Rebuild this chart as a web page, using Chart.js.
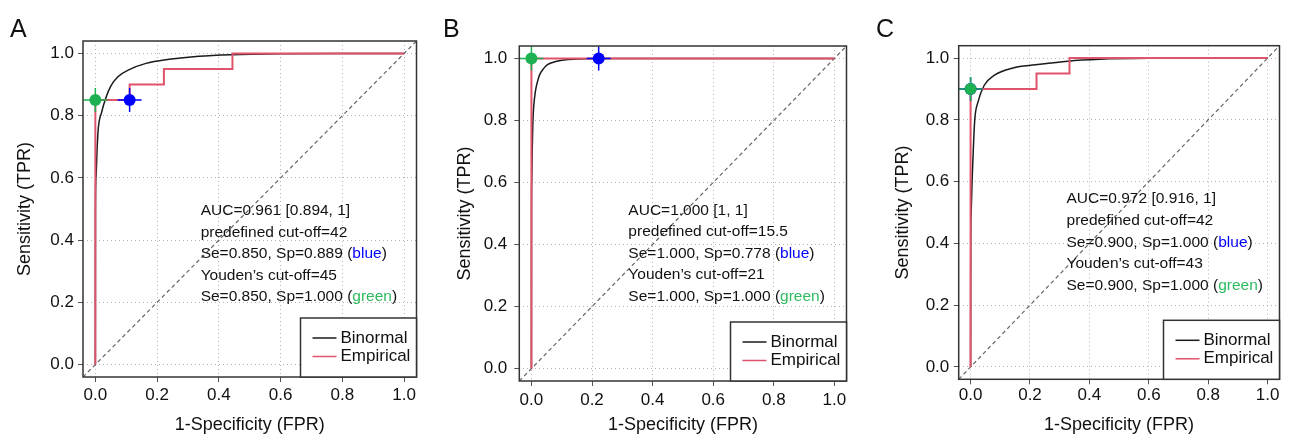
<!DOCTYPE html>
<html>
<head>
<meta charset="utf-8">
<script src="https://cdn.jsdelivr.net/npm/chart.js@4.4.1/dist/chart.umd.min.js"></script>
<style>
  body { margin: 0; background: #fff; width: 1293px; height: 435px; position: relative; overflow: hidden; font-family: "Liberation Sans", Arial, sans-serif; }
  canvas { position: absolute; top: 0; }
  .tag { position: absolute; top: 15.7px; font-size: 25px; line-height: 25px; color: #111; z-index: 2; }
</style>
</head>
<body>
<canvas id="rocA" width="430" height="435" style="left:0"></canvas>
<canvas id="rocB" width="430" height="435" style="left:430px"></canvas>
<canvas id="rocC" width="433" height="435" style="left:860px"></canvas>
<div class="tag" style="left:10px">A</div>
<div class="tag" style="left:443px">B</div>
<div class="tag" style="left:876px">C</div>
<script>
// axis ticks
const tickVals = [0, 0.2, 0.4, 0.6, 0.8, 1.0];
const diagFpr = [-0.04, 1.04];
const diagTpr = [-0.04, 1.04];

// binormal curves
const binormA_fpr = [0, 0.0004, 0.002, 0.006, 0.0096, 0.02, 0.035, 0.05, 0.073, 0.11, 0.164, 0.239, 0.335, 0.441, 0.6, 0.8, 1];
const binormA_tpr = [0, 0.5, 0.6, 0.7, 0.76, 0.81, 0.86, 0.895, 0.925, 0.948, 0.968, 0.981, 0.991, 0.996, 0.999, 1, 1];
const binormB_fpr = [0, 0.0003, 0.001, 0.003, 0.005, 0.008, 0.013, 0.02, 0.027, 0.04, 0.053, 0.08, 0.107, 0.15, 0.2, 1];
const binormB_tpr = [0, 0.5, 0.6, 0.72, 0.8, 0.85, 0.893, 0.925, 0.947, 0.967, 0.98, 0.99, 0.995, 0.998, 1, 1];
const binormC_fpr = [0, 0.0005, 0.002, 0.005, 0.009, 0.014, 0.025, 0.046, 0.079, 0.143, 0.219, 0.327, 0.434, 0.6, 1];
const binormC_tpr = [0, 0.4, 0.5, 0.6, 0.7, 0.8, 0.858, 0.912, 0.944, 0.968, 0.978, 0.99, 0.996, 0.999, 1];

// empirical step curves
const empA_fpr = [0, 0, 0.111, 0.222, 0.444, 1];
const empA_tpr = [0, 0.85, 0.90, 0.95, 1, 1];
const empB_fpr = [0, 0, 1];
const empB_tpr = [0, 1, 1];
const empC_fpr = [0, 0, 0.222, 0.333, 1];
const empC_tpr = [0, 0.90, 0.95, 1, 1];

// summary numbers, panels A, B, C
const aucVal = ["0.961", "1.000", "0.972"];
const aucLo = ["0.894", "1", "0.916"];
const aucHi = ["1", "1", "1"];
const cutPre = ["42", "15.5", "42"];
const cutYouden = ["45", "21", "43"];
const seBlue = [0.850, 1.000, 0.900];
const spBlue = [0.889, 0.778, 1.000];
const seGreen = [0.850, 1.000, 0.900];
const spGreen = [1.000, 1.000, 1.000];

const RED = "#DF536B", BLUE = "#0000FF", GREEN = "#1db152";
const FONT = "'Liberation Sans', Arial, sans-serif";

const pts = (xs, ys) => xs.map((x, i) => ({ x: x, y: ys[i] }));

// box around plot region
const boxPlugin = {
  id: "box",
  afterDatasetsDraw(chart) {
    const { ctx, chartArea: a } = chart;
    ctx.save();
    ctx.strokeStyle = "#333";
    ctx.lineWidth = 1.5;
    ctx.strokeRect(a.left, a.top, a.right - a.left, a.bottom - a.top);
    ctx.restore();
  }
};

// annotation text + legend box
const notePlugin = {
  id: "note",
  afterDraw(chart, args, o) {
    const { ctx, chartArea: a, scales } = chart;
    const i = o.idx;
    ctx.save();
    ctx.font = "15.5px " + FONT;
    ctx.textBaseline = "middle";
    ctx.textAlign = "left";
    const lines = [
      [["AUC=" + aucVal[i] + " [" + aucLo[i] + ", " + aucHi[i] + "]", "#111"]],
      [["predefined cut-off=" + cutPre[i], "#111"]],
      [["Se=" + seBlue[i].toFixed(3) + ", Sp=" + spBlue[i].toFixed(3) + " (", "#111"], ["blue", BLUE], [")", "#111"]],
      [["Youden\u2019s cut-off=" + cutYouden[i], "#111"]],
      [["Se=" + seGreen[i].toFixed(3) + ", Sp=" + spGreen[i].toFixed(3) + " (", "#111"], ["green", "#2dbb5f"], [")", "#111"]]
    ];
    const x0 = scales.x.getPixelForValue(o.tx);
    const y0 = scales.y.getPixelForValue(o.ty);
    lines.forEach((parts, k) => {
      let x = x0;
      parts.forEach(([t, c]) => {
        ctx.fillStyle = c;
        ctx.fillText(t, x, y0 + k * o.gap);
        x += ctx.measureText(t).width;
      });
    });

    // legend
    const w = 116, h = 59;
    const lx = a.right - w, ly = a.bottom - h;
    ctx.fillStyle = "#fff";
    ctx.fillRect(lx, ly, w, h);
    ctx.strokeStyle = "#333";
    ctx.lineWidth = 1.5;
    ctx.strokeRect(lx, ly, w, h);
    ctx.font = "17px " + FONT;
    [["Binormal", "#1a1a1a", 20], ["Empirical", RED, 38.5]].forEach(([t, c, dy]) => {
      ctx.strokeStyle = c;
      ctx.lineWidth = 1.5;
      ctx.beginPath();
      ctx.moveTo(lx + 12, ly + dy);
      ctx.lineTo(lx + 36, ly + dy);
      ctx.stroke();
      ctx.fillStyle = "#111";
      ctx.fillText(t, lx + 40, ly + dy);
    });
    ctx.restore();
  }
};

function makeRoc(p) {
  const i = p.idx;
  const blue = [{ x: 1 - spBlue[i], y: seBlue[i] }];
  const green = [{ x: 1 - spGreen[i], y: seGreen[i] }];
  return new Chart(document.getElementById(p.id), {
    type: "line",
    data: {
      datasets: [
        { data: pts(diagFpr, diagTpr), borderColor: "#666", borderWidth: 1.2, borderDash: [4, 3], pointRadius: 0, order: 10 },
        { data: pts(p.bx, p.by), borderColor: "#1a1a1a", borderWidth: 1.5, pointRadius: 0, cubicInterpolationMode: "monotone", order: 9 },
        { data: pts(p.ex, p.ey), borderColor: RED, borderWidth: 2, pointRadius: 0, stepped: "before", order: 8 },
        { data: blue, showLine: false, pointStyle: "cross", pointRadius: 12, pointBorderColor: BLUE, pointBorderWidth: 1.5, order: 7 },
        { data: green, showLine: false, pointStyle: "cross", pointRadius: 12, pointBorderColor: GREEN, pointBorderWidth: 1.5, order: 6 },
        { data: blue, showLine: false, pointStyle: "circle", pointRadius: 6, pointBackgroundColor: BLUE, pointBorderWidth: 0, order: 5 },
        { data: green, showLine: false, pointStyle: "circle", pointRadius: 6, pointBackgroundColor: GREEN, pointBorderWidth: 0, order: 4 }
      ]
    },
    options: {
      responsive: false,
      devicePixelRatio: 1,
      animation: false,
      events: [],
      layout: { padding: { left: 0, top: p.top, right: p.right, bottom: 0 } },
      plugins: {
        legend: { display: false },
        tooltip: { enabled: false },
        note: { idx: i, tx: p.tx, ty: p.ty, gap: p.gap }
      },
      scales: {
        x: {
          type: "linear", min: -0.04, max: 1.04,
          afterBuildTicks: s => { s.ticks = tickVals.map(v => ({ value: v })); },
          afterFit: s => { s.height = p.xh; },
          ticks: { callback: v => v.toFixed(1), autoSkip: false, maxRotation: 0, padding: p.xpad, color: "#111", font: { family: FONT, size: 17 } },
          grid: { color: "#b3b3b3", lineWidth: 1, tickLength: 5, tickColor: "#555", tickWidth: 1 },
          border: { display: false, dash: [1, 3] },
          title: { display: true, text: "1-Specificity (FPR)", color: "#111", font: { family: FONT, size: 18, lineHeight: 1 }, padding: { top: 0, bottom: 1 } }
        },
        y: {
          type: "linear", min: -0.04, max: 1.04,
          afterBuildTicks: s => { s.ticks = tickVals.map(v => ({ value: v })); },
          afterFit: s => { s.width = p.yw; },
          ticks: { callback: v => v.toFixed(1), autoSkip: false, padding: p.ypad, color: "#111", font: { family: FONT, size: 17 } },
          grid: { color: "#b3b3b3", lineWidth: 1, tickLength: 5, tickColor: "#555", tickWidth: 1 },
          border: { display: false, dash: [1, 3] },
          title: { display: true, text: "Sensitivity (TPR)", color: "#111", font: { family: FONT, size: 18, lineHeight: 1 }, padding: { top: p.ytp, bottom: 0 } }
        }
      }
    },
    plugins: [boxPlugin, notePlugin]
  });
}

makeRoc({ id: "rocA", idx: 0, bx: binormA_fpr, by: binormA_tpr, ex: empA_fpr, ey: empA_tpr,
  top: 41, right: 11, yw: 83, xh: 58, xpad: 3, ypad: 4, ytp: 16, tx: 0.341, ty: 0.493, gap: 21.5 });
makeRoc({ id: "rocB", idx: 1, bx: binormB_fpr, by: binormB_tpr, ex: empB_fpr, ey: empB_tpr,
  top: 46, right: 5.7, yw: 89.3, xh: 54, xpad: 3.8, ypad: 7, ytp: 26, tx: 0.32, ty: 0.51, gap: 21.5 });
makeRoc({ id: "rocC", idx: 2, bx: binormC_fpr, by: binormC_tpr, ex: empC_fpr, ey: empC_tpr,
  top: 45.7, right: 0.7, yw: 98.7, xh: 55.7, xpad: 0.5, ypad: 4.4, ytp: 34.3, tx: 0.323, ty: 0.544, gap: 21.7 });
</script>
</body>
</html>
